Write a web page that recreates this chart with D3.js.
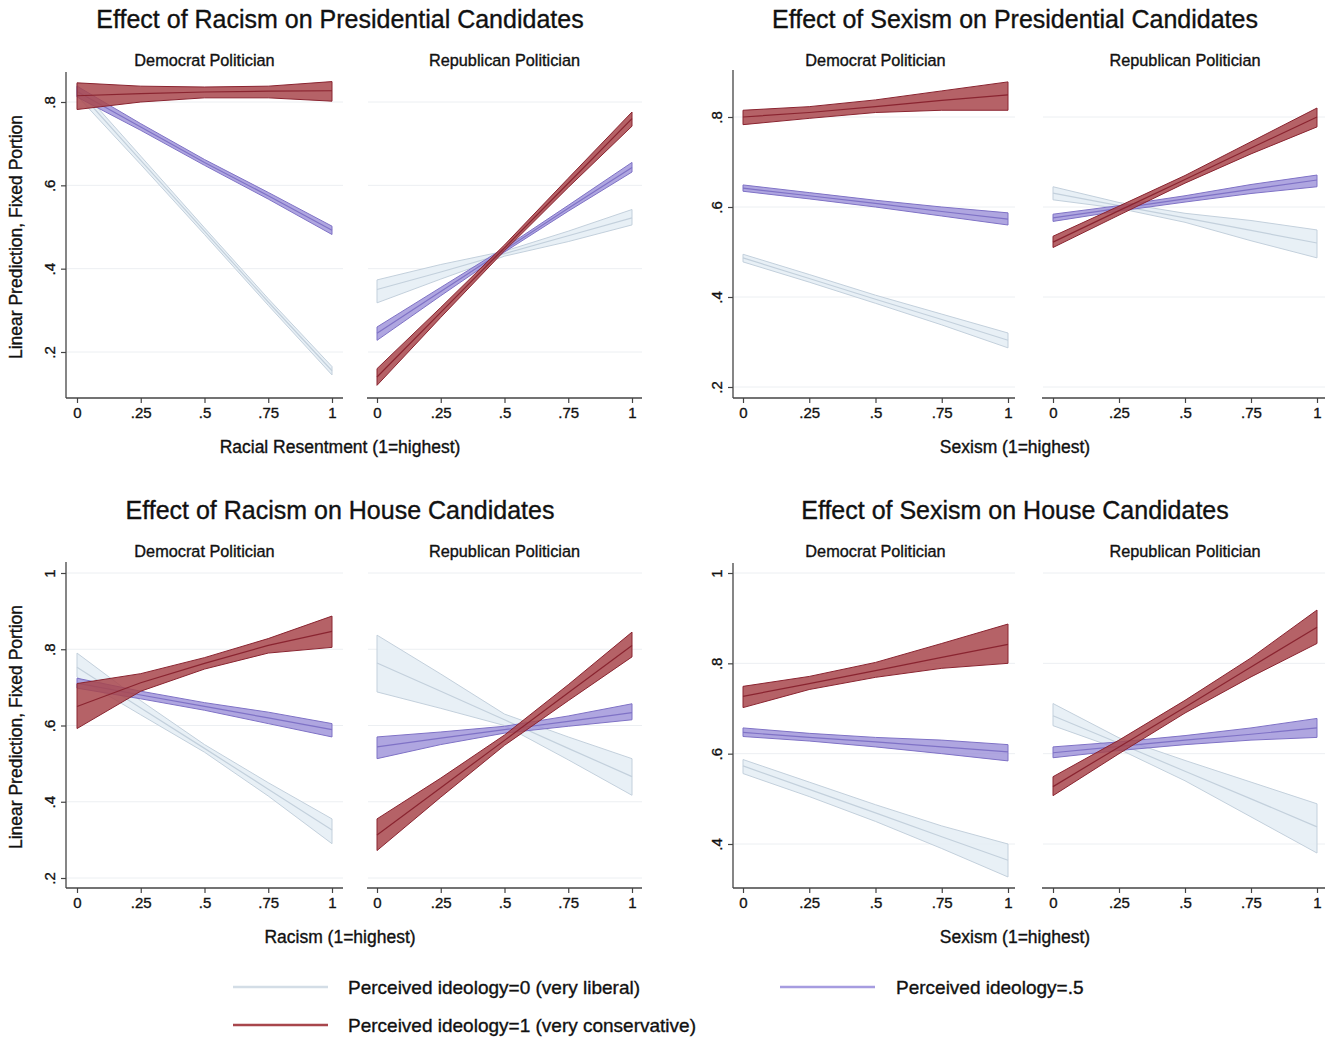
<!DOCTYPE html>
<html><head><meta charset="utf-8">
<script src="https://cdn.jsdelivr.net/npm/d3@7"></script>
<style>
html,body{margin:0;padding:0;background:#fff;}
text{font-family:"Liberation Sans",Arial,Helvetica,sans-serif;fill:#111;stroke:#111;stroke-width:0.35px;}
</style></head>
<body>
<svg id="chart" width="1339" height="1040"></svg>
<script>
// ---------- DATA ----------
const xCats = [0, 0.25, 0.5, 0.75, 1];
const xTickLabels = ["0", ".25", ".5", ".75", "1"];
const panelNames = ["Democrat Politician", "Republican Politician"];
const seriesKeys = ["lib", "mid", "con"];
const seriesLabels = ["Perceived ideology=0 (very liberal)", "Perceived ideology=.5", "Perceived ideology=1 (very conservative)"];
const quadTitles = ["Effect of Racism on Presidential Candidates", "Effect of Sexism on Presidential Candidates",
                    "Effect of Racism on House Candidates", "Effect of Sexism on House Candidates"];
const xAxisTitles = ["Racial Resentment (1=highest)", "Sexism (1=highest)", "Racism (1=highest)", "Sexism (1=highest)"];
const yAxisTitle = "Linear Prediction, Fixed Portion";
const yTicksQ1 = [0.2, 0.4, 0.6, 0.8];
const yTicksQ2 = [0.2, 0.4, 0.6, 0.8];
const yTicksQ3 = [0.2, 0.4, 0.6, 0.8, 1];
const yTicksQ4 = [0.4, 0.6, 0.8, 1];
const yTickLabel = {0.2: ".2", 0.4: ".4", 0.6: ".6", 0.8: ".8", 1: "1"};

// rows per x value: [estimate, lower, upper]
// Racism – Presidential
const racPresDemLib = [[.83,.815,.842],[.66,.65,.67],[.49,.482,.498],[.32,.312,.328],[.155,.145,.165]];
const racPresDemMid = [[.825,.812,.838],[.74,.732,.748],[.655,.648,.662],[.575,.567,.583],[.492,.482,.502]];
const racPresDemCon = [[.815,.782,.846],[.82,.80,.838],[.824,.81,.836],[.826,.81,.838],[.827,.802,.849]];
const racPresRepLib = [[.35,.318,.373],[.392,.375,.41],[.436,.43,.442],[.479,.465,.49],[.522,.505,.542]];
const racPresRepMid = [[.245,.228,.26],[.345,.335,.355],[.445,.44,.45],[.545,.538,.552],[.643,.632,.655]];
const racPresRepCon = [[.14,.12,.16],[.295,.283,.307],[.45,.443,.457],[.605,.595,.617],[.76,.742,.776]];
// Sexism – Presidential
const sexPresDemLib = [[.487,.478,.495],[.441,.433,.45],[.395,.386,.404],[.35,.338,.362],[.304,.287,.32]];
const sexPresDemMid = [[.642,.635,.649],[.625,.618,.632],[.608,.60,.615],[.59,.58,.60],[.573,.56,.587]];
const sexPresDemCon = [[.80,.783,.815],[.81,.797,.823],[.823,.81,.838],[.837,.815,.858],[.849,.815,.878]];
const sexPresRepLib = [[.631,.616,.645],[.603,.597,.61],[.576,.566,.586],[.548,.525,.57],[.52,.487,.549]];
const sexPresRepMid = [[.576,.568,.584],[.597,.591,.603],[.618,.611,.625],[.639,.63,.65],[.66,.645,.671]];
const sexPresRepCon = [[.522,.51,.535],[.592,.582,.602],[.661,.653,.67],[.731,.718,.745],[.80,.778,.82]];
// Racism – House
const racHouseDemLib = [[.753,.727,.79],[.646,.628,.665],[.54,.53,.55],[.433,.415,.45],[.326,.29,.355]];
const racHouseDemMid = [[.711,.698,.724],[.68,.67,.69],[.65,.64,.66],[.62,.605,.635],[.589,.57,.605]];
const racHouseDemCon = [[.65,.592,.71],[.712,.69,.736],[.763,.748,.778],[.81,.79,.828],[.847,.805,.887]];
const racHouseRepLib = [[.764,.688,.837],[.69,.645,.735],[.615,.60,.63],[.54,.51,.57],[.466,.417,.513]];
const racHouseRepMid = [[.544,.513,.57],[.567,.55,.583],[.589,.58,.598],[.611,.598,.625],[.634,.615,.657]];
const racHouseRepCon = [[.313,.272,.355],[.437,.412,.462],[.561,.548,.575],[.686,.665,.707],[.81,.78,.845]];
// Sexism – House
const sexHouseDemLib = [[.573,.556,.587],[.521,.505,.537],[.469,.45,.487],[.416,.39,.44],[.364,.327,.40]];
const sexHouseDemMid = [[.647,.638,.657],[.636,.628,.645],[.626,.615,.636],[.615,.60,.63],[.604,.584,.62]];
const sexHouseDemCon = [[.727,.702,.749],[.755,.742,.771],[.784,.769,.802],[.813,.789,.844],[.842,.80,.887]];
const sexHouseRepLib = [[.684,.662,.711],[.623,.61,.635],[.561,.54,.585],[.50,.46,.537],[.438,.38,.489]];
const sexHouseRepMid = [[.602,.591,.615],[.616,.607,.626],[.63,.62,.64],[.643,.63,.657],[.657,.636,.678]];
const sexHouseRepCon = [[.527,.507,.549],[.615,.60,.63],[.703,.69,.718],[.792,.77,.812],[.88,.844,.918]];

// ---------- STYLE / LAYOUT ----------
const styles = {
  lib: {fill:"#e4edf5", fillOp:0.85, edge:"#c3d0dc", line:"#c3d0dc"},
  mid: {fill:"#9b90d8", fillOp:0.8, edge:"#7f72c6", line:"#7f72c6"},
  con: {fill:"#a8464c", fillOp:0.85, edge:"#8a2430", line:"#8a2430"}
};
const quads = [
  {data:[[racPresDemLib,racPresDemMid,racPresDemCon],[racPresRepLib,racPresRepMid,racPresRepCon]],
   ticks:yTicksQ1, yA:{v:0.8,p:102}, yB:{v:0.2,p:352}, yTop:72, yBot:398, axisX:66,
   panels:[{x0:77,x1:332,l:66,r:343},{x0:377,x1:632,l:367,r:642}], cx:340, titleY:19, yTitle:true},
  {data:[[sexPresDemLib,sexPresDemMid,sexPresDemCon],[sexPresRepLib,sexPresRepMid,sexPresRepCon]],
   ticks:yTicksQ2, yA:{v:0.8,p:117}, yB:{v:0.2,p:387}, yTop:70, yBot:398, axisX:733,
   panels:[{x0:743,x1:1008,l:733,r:1015},{x0:1053,x1:1317,l:1042,r:1325}], cx:1015, titleY:19, yTitle:false},
  {data:[[racHouseDemLib,racHouseDemMid,racHouseDemCon],[racHouseRepLib,racHouseRepMid,racHouseRepCon]],
   ticks:yTicksQ3, yA:{v:1,p:573}, yB:{v:0.2,p:878}, yTop:562, yBot:888, axisX:66,
   panels:[{x0:77,x1:332,l:66,r:343},{x0:377,x1:632,l:367,r:642}], cx:340, titleY:510, yTitle:true},
  {data:[[sexHouseDemLib,sexHouseDemMid,sexHouseDemCon],[sexHouseRepLib,sexHouseRepMid,sexHouseRepCon]],
   ticks:yTicksQ4, yA:{v:1,p:573}, yB:{v:0.4,p:844}, yTop:563, yBot:888, axisX:733,
   panels:[{x0:743,x1:1008,l:733,r:1015},{x0:1053,x1:1317,l:1042,r:1325}], cx:1015, titleY:510, yTitle:false}
];

const svg = d3.select("#chart");

quads.forEach((q, qi) => {
  const g = svg.append("g");
  const y = d3.scaleLinear().domain([q.yB.v, q.yA.v]).range([q.yB.p, q.yA.p]);

  g.append("text").attr("x", q.cx).attr("y", q.titleY).attr("text-anchor","middle")
    .attr("dominant-baseline","central").style("font-size","25px").text(quadTitles[qi]);
  g.append("text").attr("x", q.cx).attr("y", q.yBot + 49).attr("text-anchor","middle")
    .attr("dominant-baseline","central").style("font-size","17.5px").text(xAxisTitles[qi]);
  if (q.yTitle) {
    g.append("text").attr("transform", `translate(16,${(q.yTop+q.yBot)/2 + 2}) rotate(-90)`)
      .attr("text-anchor","middle").attr("dominant-baseline","central")
      .style("font-size","17.5px").text(yAxisTitle);
  }

  q.panels.forEach((p, pi) => {
    const x = d3.scaleLinear().domain([0,1]).range([p.x0, p.x1]);
    const pg = g.append("g");
    pg.selectAll("line.grid").data(q.ticks).enter().append("line")
      .attr("x1", p.l + 1).attr("x2", p.r).attr("y1", d => y(d)).attr("y2", d => y(d))
      .attr("stroke","#eceff2").attr("stroke-width",1);
    pg.append("text").attr("x", (p.x0+p.x1)/2).attr("y", qi>=2 ? 551 : 60).attr("text-anchor","middle")
      .attr("dominant-baseline","central").style("font-size","16.3px").text(panelNames[pi]);

    q.data[pi].forEach((rows, si) => {
      const st = styles[seriesKeys[si]];
      const pts = rows.map((r, i) => ({x: xCats[i], est: r[0], lo: r[1], hi: r[2]}));
      const area = d3.area().x(d => x(d.x)).y0(d => y(d.lo)).y1(d => y(d.hi));
      pg.append("path").attr("d", area(pts) + "")
        .attr("fill", st.fill).attr("fill-opacity", st.fillOp)
        .attr("stroke", st.edge).attr("stroke-width", 1).attr("stroke-linejoin","round");
      const line = d3.line().x(d => x(d.x)).y(d => y(d.est));
      pg.append("path").attr("d", line(pts)).attr("fill","none")
        .attr("stroke", st.line).attr("stroke-width", 1.2);
    });

    const xAxis = d3.axisBottom(x).tickValues(xCats).tickFormat((d,i) => xTickLabels[i]).tickSize(5).tickPadding(4);
    const xg = pg.append("g").attr("transform", `translate(0,${q.yBot})`).call(xAxis);
    xg.select(".domain").attr("d", `M${p.l},0H${p.r}`).attr("stroke","#444").attr("stroke-width",1.3);
    xg.selectAll(".tick line").attr("stroke","#444").attr("stroke-width",1.2);
    xg.selectAll(".tick text").style("font-size","15px").style("font-family","Liberation Sans, Arial, sans-serif")
      .attr("fill","#111").attr("stroke","#111").attr("stroke-width",0.35);
  });

  const yAxis = d3.axisLeft(y).tickValues(q.ticks).tickFormat(d => yTickLabel[d]).tickSize(5).tickPadding(0);
  const yg = g.append("g").attr("transform", `translate(${q.axisX},0)`).call(yAxis);
  yg.select(".domain").attr("d", `M0,${q.yTop}V${q.yBot}`).attr("stroke","#444").attr("stroke-width",1.3);
  yg.selectAll(".tick line").attr("stroke","#444").attr("stroke-width",1.2);
  yg.selectAll(".tick text").attr("x", null).attr("dy", null)
    .attr("transform","translate(-17,0) rotate(-90)").attr("text-anchor","middle")
    .attr("dominant-baseline","central")
    .style("font-size","15px").style("font-family","Liberation Sans, Arial, sans-serif")
    .attr("fill","#111").attr("stroke","#111").attr("stroke-width",0.35);
});

// ---------- LEGEND ----------
const legendItems = [
  {key:"lib", x:233, y:987, tx:348, color:"#d3dde6"},
  {key:"mid", x:780, y:987, tx:896, color:"#a69ce0"},
  {key:"con", x:233, y:1025, tx:348, color:"#a8464c"}
];
const lg = svg.append("g");
legendItems.forEach(it => {
  const si = seriesKeys.indexOf(it.key);
  lg.append("line").attr("x1", it.x).attr("x2", it.x + 95).attr("y1", it.y).attr("y2", it.y)
    .attr("stroke", it.color).attr("stroke-width", 2.5);
  lg.append("text").attr("x", it.tx).attr("y", it.y).attr("dominant-baseline","central")
    .style("font-size","19px").text(seriesLabels[si]);
});
</script>
</body></html>
